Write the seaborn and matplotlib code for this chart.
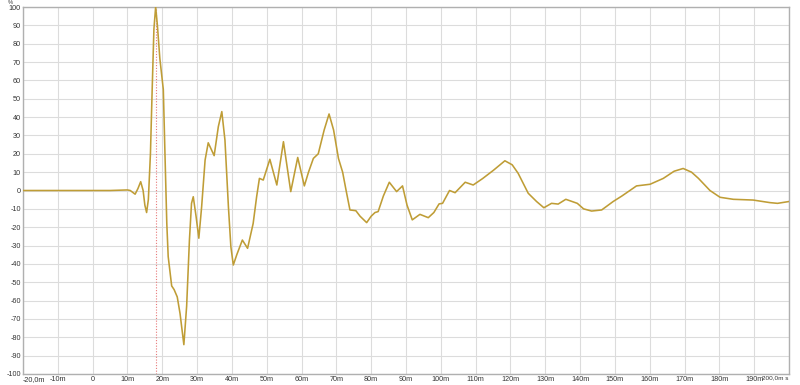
import matplotlib
matplotlib.use("Agg")
import matplotlib.pyplot as plt
import seaborn as sns
import pandas as pd

# time in ms, amplitude in %
time_ms = [-20, -10, 0, 5, 10, 10.8, 11.5, 12.2, 13.0, 13.8, 14.5, 15.0, 15.5, 16.0,
           16.6, 17.1, 17.6, 18.1, 18.6, 19.3, 20.3, 20.8, 21.3, 21.7, 22.7, 23.4, 24.3,
           25.1, 26.2, 27.0, 27.8, 28.4, 28.9, 29.7, 30.5, 31.3, 32.3, 33.2, 34.9, 36.1,
           37.1, 38.0, 39.0, 39.7, 40.4, 41.4, 43.0, 44.5, 46.1, 47.1, 47.9, 49.0, 50.9,
           52.9, 54.8, 56.9, 58.9, 60.8, 62.0, 63.4, 64.8, 66.5, 67.9, 69.2, 70.6, 71.8,
           72.8, 73.9, 75.6, 76.8, 78.7, 80.0, 81.1, 82.0, 83.5, 85.2, 87.3, 89.0, 90.3,
           91.8, 94.0, 96.4, 98.0, 99.5, 100.5, 102.5, 104.1, 107.0, 109.3, 112.0, 115.1,
           118.4, 120.5, 122.2, 125.1, 127.5, 129.6, 131.8, 133.7, 135.9, 139.2, 141.0,
           143.3, 146.2, 149.5, 152.0, 154.3, 156.2, 160.1, 163.9, 167.0, 169.6, 172.0,
           174.0, 177.3, 180.2, 184.0, 189.7, 194.5, 196.7, 200.0]
amplitude = [0, 0, 0, 0, 0.3, 0, -1, -2, 1, 4.8, 0, -8, -12, -5,
             20, 55, 88, 100, 90, 72, 55, 18, -18, -36, -52, -54, -58,
             -67, -84, -63, -27, -7, -3.4, -14, -26, -9, 16.6, 26, 19, 34.8,
             43, 27.5, -9, -30.6, -40.6, -35, -27, -31.5, -18, -3.4, 6.6, 5.7, 17,
             3, 26.6, -0.6, 18, 2.5, 10, 17.5, 20, 33, 41.7, 33, 17.5, 10,
             0, -10.6, -11, -14, -17.5, -14, -12, -11.5, -3, 4.5, -0.6, 2.5, -8,
             -16, -13, -14.8, -12, -7.3, -7, 0, -1.2, 4.5, 3, 6.5, 11,
             16.2, 14, 9.4, -1.5, -6, -9.4, -7, -7.4, -4.8, -7, -10,
             -11.2, -10.6, -6, -3, 0, 2.5, 3.4, 6.6, 10.5, 12, 10,
             6.6, 0, -3.7, -4.8, -5.2, -6.6, -7, -6]

x_ticks = list(range(-20, 201, 10))
x_labels = ["-20,0m", "-10m", "0"] + [f"{t}m" for t in range(10, 200, 10)] + ["200,0m s"]
y_ticks = list(range(-100, 101, 10))
marker_time = 18.3

sns.set_style("white")
plt.rcParams['font.family'] = ['Liberation Sans', 'DejaVu Sans']

fig = plt.figure(figsize=(8, 3.85), dpi=100)
ax = fig.add_axes([23/800, 1 - 374/385, (789 - 23)/800, (374 - 7)/385])

df = pd.DataFrame({"t": time_ms, "v": amplitude})
sns.lineplot(data=df, x="t", y="v", ax=ax, color="#bf9d36", linewidth=1.15, zorder=3)
ax.axvline(marker_time, color="#e87a7a", linestyle=(0, (1, 1.5)), linewidth=0.8, zorder=2)

ax.set_xlim(-20, 200)
ax.set_ylim(-100, 100)
ax.set_xticks(x_ticks)
ax.set_xticklabels(x_labels)
ax.set_yticks(y_ticks)
ax.set_yticklabels([str(v) for v in y_ticks])
ax.grid(True, color="#dcdcdc", linewidth=0.8)
ax.set_axisbelow(True)
ax.tick_params(axis='both', length=0, labelsize=5.2, colors="#333333", pad=1.5)
ax.tick_params(axis='x', pad=1.2)
ax.set_xlabel("")
ax.set_ylabel("")
for s in ax.spines.values():
    s.set_color("#b0b0b0")
    s.set_linewidth(1.0)
lbls = ax.get_xticklabels()
lbls[0].set_ha("left")
lbls[0].set_x(-20.6)
lbls[-1].set_ha("right")
lbls[-1].set_x(203.0)
lbls[-1].set_fontsize(4.6)
fig.text(10/800, 1 - 0.3/385, "%", fontsize=4.2, color="#333333", ha="center", va="top")

fig.savefig("out.png", dpi=100, facecolor="white")
